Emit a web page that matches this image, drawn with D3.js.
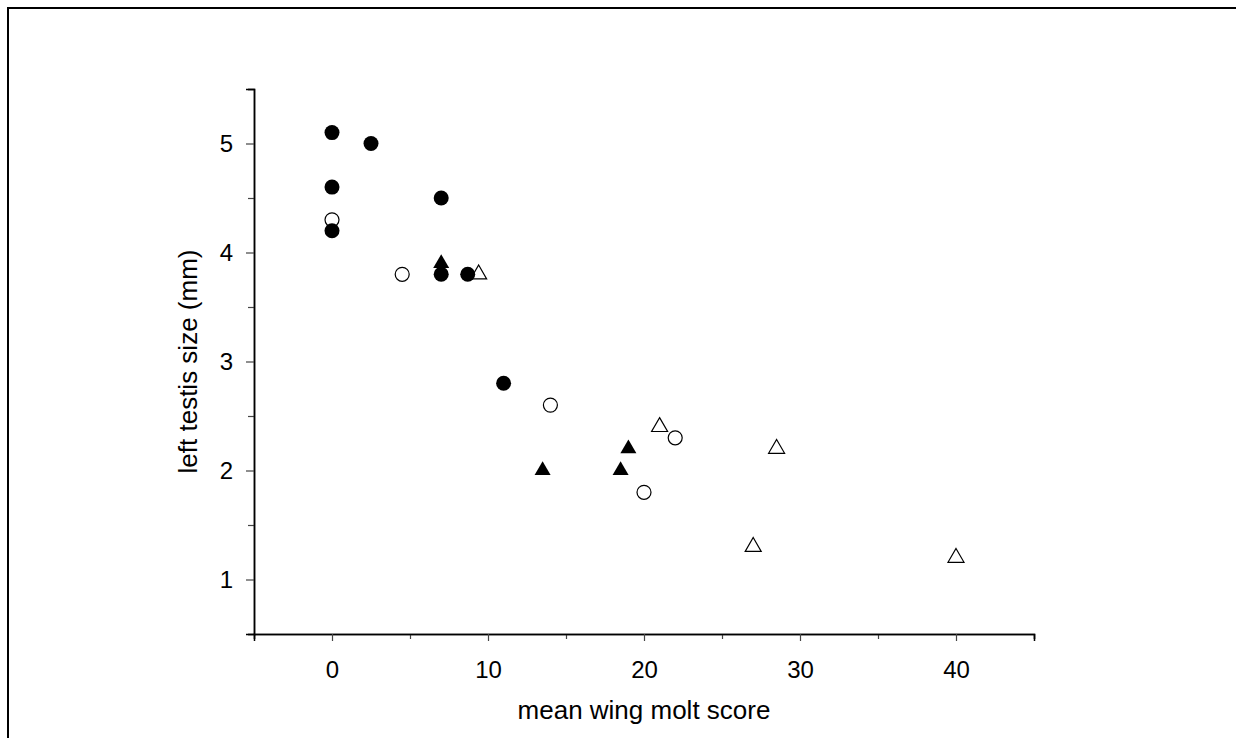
<!DOCTYPE html>
<html>
<head>
<meta charset="utf-8">
<script src="https://cdn.jsdelivr.net/npm/d3@7"></script>
<style>
  body { margin: 0; background: #fff; }
  text { font-family: "Liberation Sans", Arial, Helvetica, sans-serif; }
</style>
</head>
<body>
<svg class="chart"></svg>
<script>
// values: mean wing molt score vs left testis size (mm)
var filledCircleX = [0, 2.5, 0, 7, 0, 7, 8.7, 11];
var filledCircleY = [5.1, 5.0, 4.6, 4.5, 4.2, 3.8, 3.8, 2.8];

var openCircleX = [0, 4.5, 14, 22, 20];
var openCircleY = [4.3, 3.8, 2.6, 2.3, 1.8];

var filledTriangleX = [7, 13.5, 18.5, 19];
var filledTriangleY = [3.9, 2.0, 2.0, 2.2];

var openTriangleX = [9.4, 21, 28.5, 27, 40];
var openTriangleY = [3.8, 2.4, 2.2, 1.3, 1.2];

var xMajorTicks = [0, 10, 20, 30, 40];
var xMinorTicks = [-5, 5, 15, 25, 35, 45];
var yMajorTicks = [1, 2, 3, 4, 5];
var yMinorTicks = [0.5, 1.5, 2.5, 3.5, 4.5, 5.5];

var xLabel = 'mean wing molt score';
var yLabel = 'left testis size (mm)';

function pairs(xs, ys) {
  return xs.map(function(d, i) { return { x: d, y: ys[i] }; });
}

var width = 1236, height = 738;
var plot = { left: 254, right: 1034, top: 89, bottom: 634 };

var svg = d3.select('.chart')
    .attr('width', width)
    .attr('height', height);

// outer frame, only top and left edges fall inside the picture
svg.append('rect')
    .attr('x', 8)
    .attr('y', 8)
    .attr('width', width + 20)
    .attr('height', height + 20)
    .attr('fill', 'none')
    .attr('stroke', '#000')
    .attr('stroke-width', 2);

var x = d3.scaleLinear()
    .domain([-5, 45])
    .range([plot.left, plot.right]);

var y = d3.scaleLinear()
    .domain([0.5, 5.5])
    .range([plot.bottom, plot.top]);

// x axis
var xMinor = d3.axisBottom(x).tickValues(xMinorTicks).tickSize(5).tickFormat('');
var xMajor = d3.axisBottom(x).tickValues(xMajorTicks).tickSize(7).tickPadding(20).tickFormat(d3.format('d'));

svg.append('g')
    .attr('transform', `translate(0, ${plot.bottom})`)
    .call(xMinor);
svg.append('g')
    .attr('transform', `translate(0, ${plot.bottom})`)
    .call(xMajor);

// y axis
var yMinor = d3.axisLeft(y).tickValues(yMinorTicks).tickSize(6).tickFormat('');
var yMajor = d3.axisLeft(y).tickValues(yMajorTicks).tickSize(8).tickPadding(13).tickFormat(d3.format('d'));

svg.append('g')
    .attr('transform', `translate(${plot.left}, 0)`)
    .call(yMinor);
svg.append('g')
    .attr('transform', `translate(${plot.left}, 0)`)
    .call(yMajor);

svg.selectAll('.domain')
    .attr('stroke', '#000')
    .attr('stroke-width', 1.5);
svg.selectAll('.tick line')
    .attr('stroke', '#444')
    .attr('stroke-width', 1.2);
svg.selectAll('.tick text')
    .attr('font-size', 24)
    .attr('fill', '#000');

// axis titles
svg.append('text')
    .attr('x', (plot.left + plot.right) / 2)
    .attr('y', 719)
    .attr('text-anchor', 'middle')
    .attr('font-size', 26)
    .text(xLabel);

svg.append('text')
    .attr('transform', `translate(197, ${(plot.top + plot.bottom) / 2}) rotate(-90)`)
    .attr('text-anchor', 'middle')
    .attr('font-size', 26)
    .text(yLabel);

// markers: open ones first, filled drawn on top
var tri = d3.symbol().type(d3.symbolTriangle).size(111);

svg.selectAll('.open-tri')
    .data(pairs(openTriangleX, openTriangleY))
  .enter().append('path')
    .attr('class', 'open-tri')
    .attr('d', tri)
    .attr('transform', function(d) { return `translate(${x(d.x)}, ${y(d.y)})`; })
    .attr('fill', '#fff')
    .attr('stroke', '#000')
    .attr('stroke-width', 1.2);

svg.selectAll('.open-circle')
    .data(pairs(openCircleX, openCircleY))
  .enter().append('circle')
    .attr('class', 'open-circle')
    .attr('cx', function(d) { return x(d.x); })
    .attr('cy', function(d) { return y(d.y); })
    .attr('r', 7)
    .attr('fill', '#fff')
    .attr('stroke', '#000')
    .attr('stroke-width', 1.2);

svg.selectAll('.filled-tri')
    .data(pairs(filledTriangleX, filledTriangleY))
  .enter().append('path')
    .attr('class', 'filled-tri')
    .attr('d', tri)
    .attr('transform', function(d) { return `translate(${x(d.x)}, ${y(d.y)})`; })
    .attr('fill', '#000');

svg.selectAll('.filled-circle')
    .data(pairs(filledCircleX, filledCircleY))
  .enter().append('circle')
    .attr('class', 'filled-circle')
    .attr('cx', function(d) { return x(d.x); })
    .attr('cy', function(d) { return y(d.y); })
    .attr('r', 7.5)
    .attr('fill', '#000');
</script>
</body>
</html>
